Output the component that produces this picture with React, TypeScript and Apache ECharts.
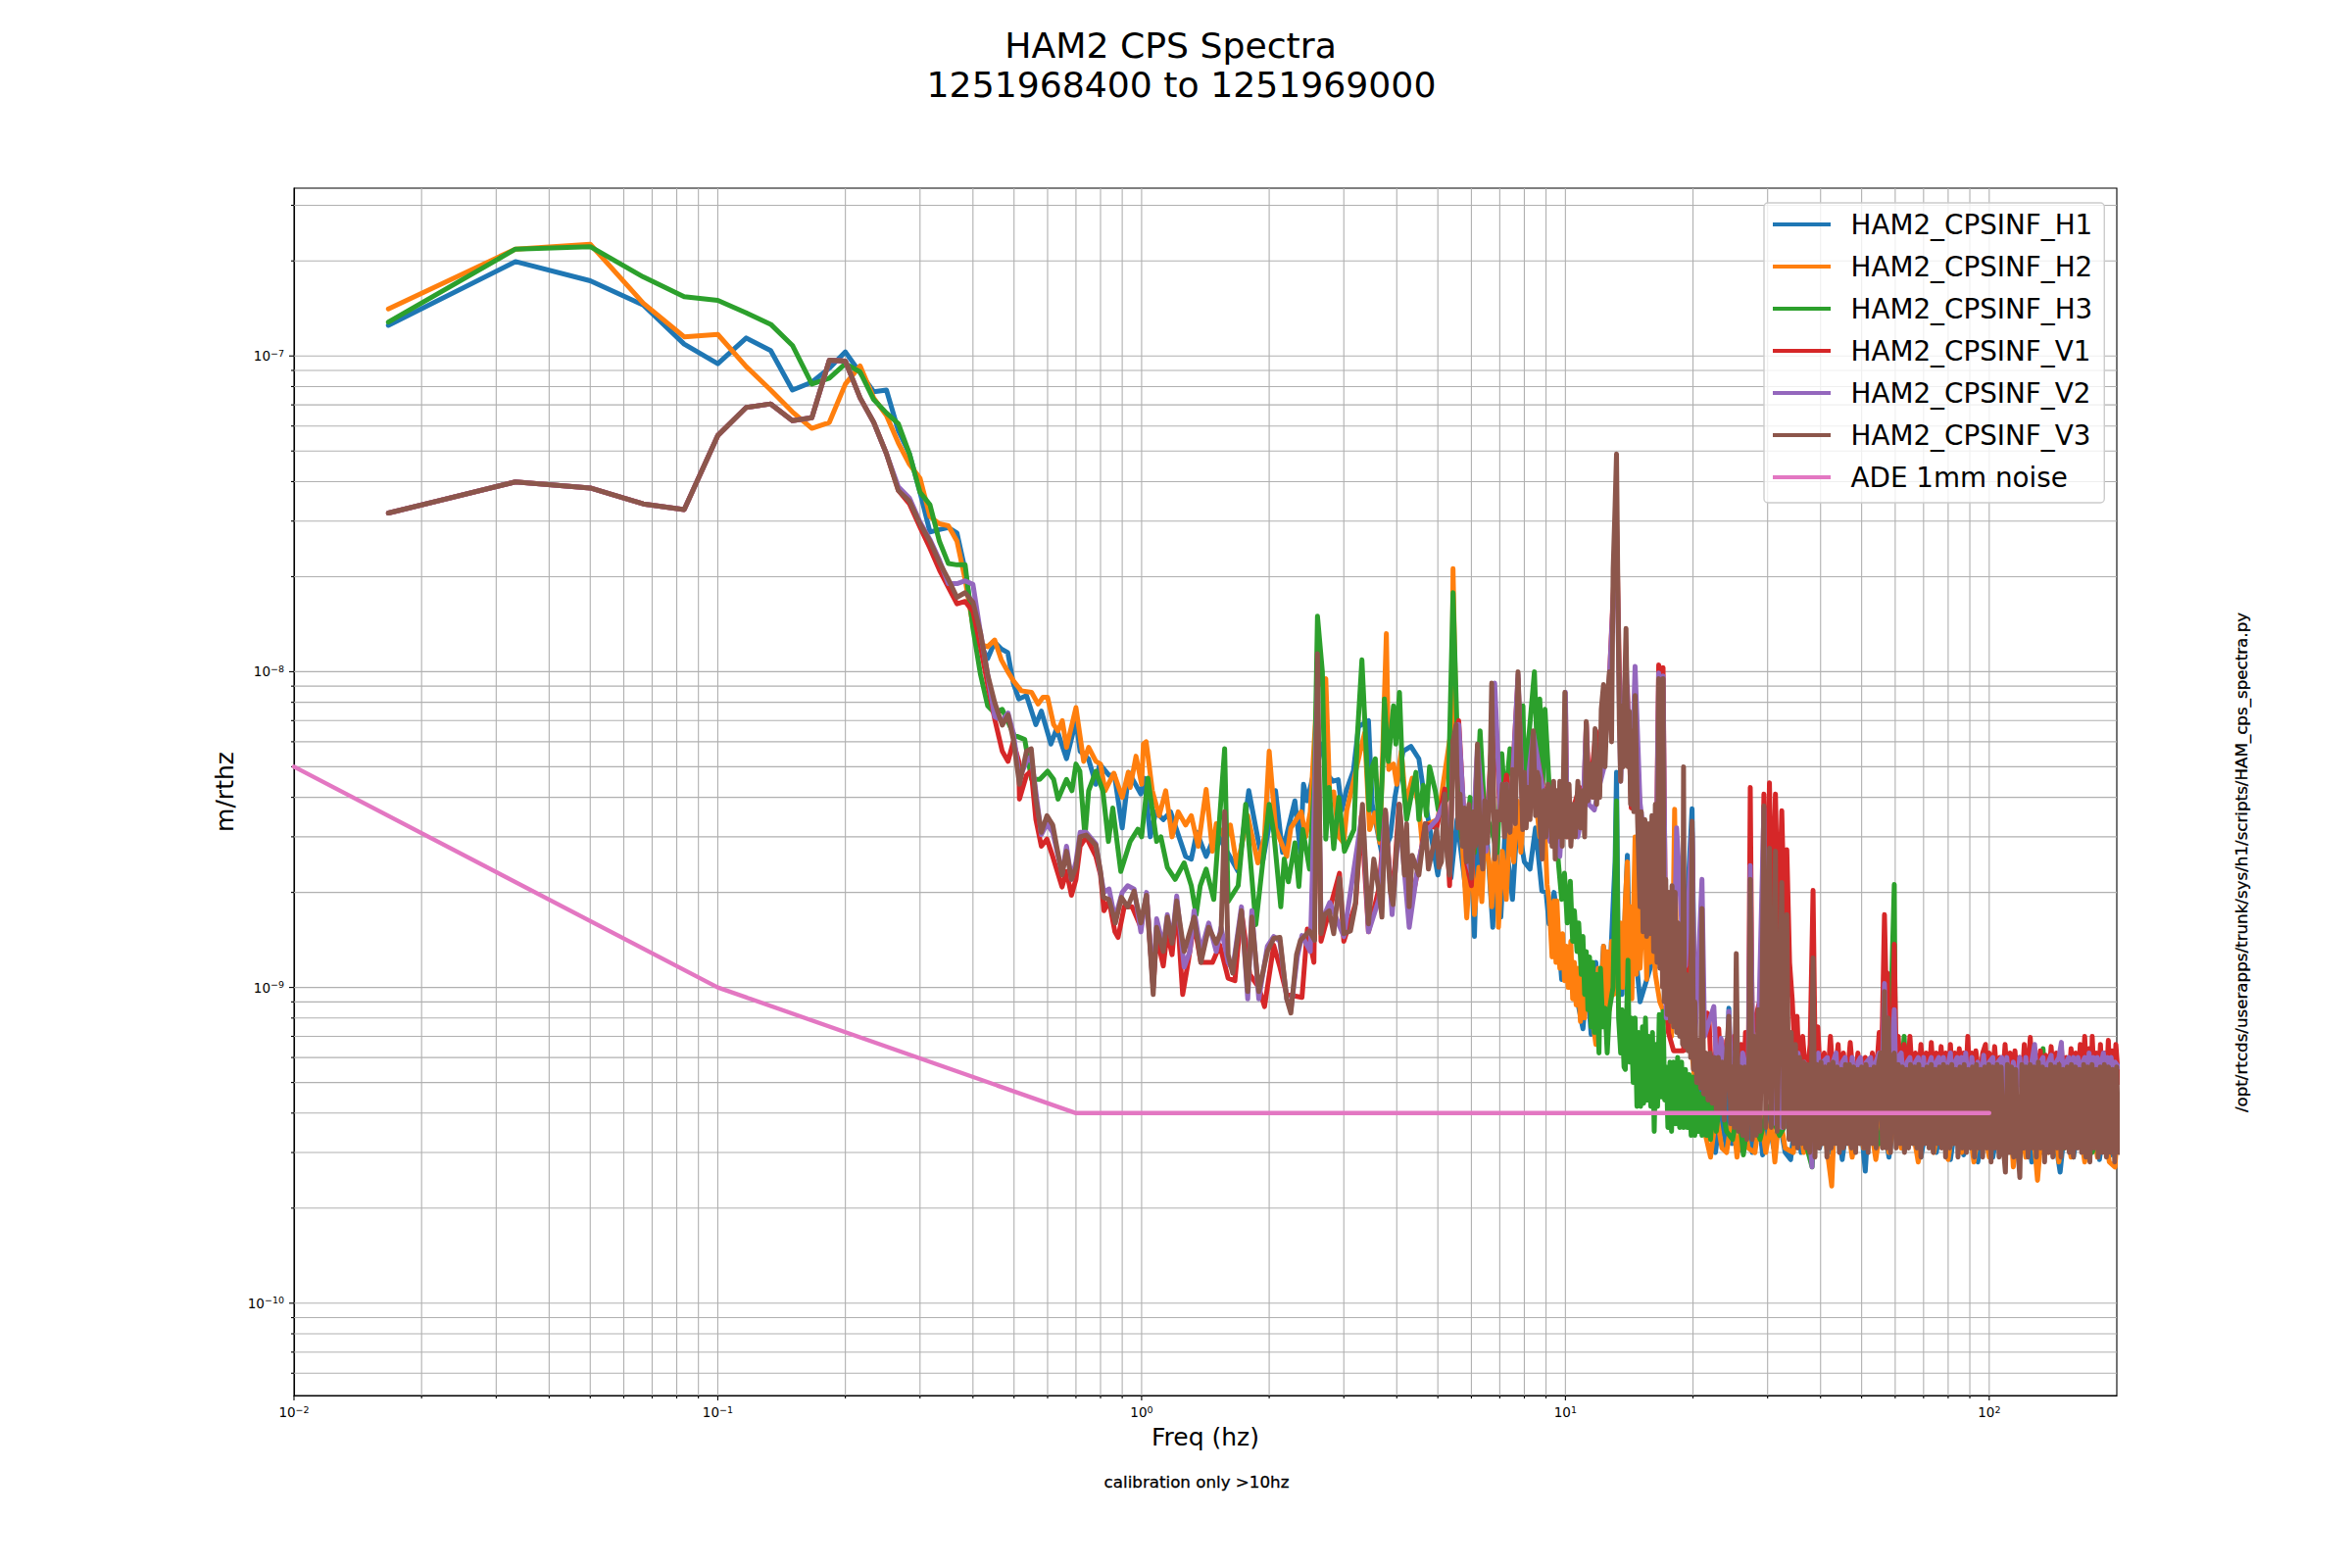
import React, { useEffect, useRef } from "react";
import * as echarts from "echarts";

type Pt = [number, number];
const NM = 1e-9;
const FONT = "DejaVu Sans";

const TITLE_LINES = ["HAM2 CPS Spectra", "1251968400 to 1251969000"];
const X_LABEL = "Freq (hz)";
const Y_LABEL = "m/rthz";
const NOTE_BOTTOM = "calibration only >10hz";
const NOTE_SIDE = "/opt/rtcds/userapps/trunk/sys/h1/scripts/HAM_cps_spectra.py";
const NAMES = ["HAM2_CPSINF_H1", "HAM2_CPSINF_H2", "HAM2_CPSINF_H3", "HAM2_CPSINF_V1", "HAM2_CPSINF_V2", "HAM2_CPSINF_V3", "ADE 1mm noise"];
const COLORS = ["#1f77b4", "#ff7f0e", "#2ca02c", "#d62728", "#9467bd", "#8c564b", "#e377c2"];
const X_MIN = 0.01, X_MAX = 200, Y_MIN = 5.1e-11, Y_MAX = 3.4e-7;
const X_DECADES = [0.01, 0.1, 1, 10, 100];
const Y_DECADES = [1e-10, 1e-9, 1e-8, 1e-7];
const X_MINOR = [0.02,0.03,0.04,0.05,0.06,0.07,0.08,0.09,0.2,0.3,0.4,0.5,0.6,0.7,0.8,0.9,2,3,4,5,6,7,8,9,20,30,40,50,60,70,80,90];
const Y_MINOR = [6e-11,7e-11,8e-11,9e-11,2e-10,3e-10,4e-10,5e-10,6e-10,7e-10,8e-10,9e-10,2e-9,3e-9,4e-9,5e-9,6e-9,7e-9,8e-9,9e-9,2e-8,3e-8,4e-8,5e-8,6e-8,7e-8,8e-8,9e-8,2e-7,3e-7];

const H1: Pt[] = [[.0167,125],[.0333,199],[.05,173],[.0667,145],[.0833,109],[.1,94.5],[.1167,114],[.1333,104],[.15,78],[.1667,82.6],[.1833,91.5],[.2,103],[.2167,88.5],[.2333,77],[.25,78],[.2667,58],[.2833,49],[.3,37],[.3167,27.7],[.3333,28.2],[.35,28.6],[.3667,27.5],[.3833,21],[.4,14.2],[.4167,12.2],[.4333,11],[.45,12.4],[.4667,11.8],[.4833,11.5],
[.498,9.2],[.513,8.2],[.535,8.4],[.563,6.8],[.58,7.5],[.611,5.9],[.63,6.6],[.665,5.3],[.7,7],[.716,5.6],[.749,5.3],[.78,4.4],[.796,5.1],[.838,4.7],[.863,4.7],[.9,3.2],[.933,4.8],[.996,4.1],[1.016,4.6],[1.048,3],[1.08,3.6],[1.125,3.4],[1.17,3.6],[1.27,2.6],[1.31,2.55],[1.35,3.1],[1.42,2.6],[1.5,3.1],[1.69,2.33],[1.79,4.2],[1.89,2.86],[1.93,2.5],[2.07,4.2],[2.15,2.68],[2.3,3.9],[2.37,2.68],[2.41,4.4],[2.46,3.9],[2.54,4.7],[2.65,5.9],[2.75,4.7],[2.83,4.5],[2.91,4.55],[2.97,3.65],[3.04,4.2],[3.16,4.85],[3.25,6.7],[3.43,7],[3.5,3.8],[3.7,2.6],[3.86,3],[3.96,4],[4.14,5.6],[4.32,5.8],[4.51,5.3],[4.65,4],[5,2.27],[5.2,3.2],[5.37,2.22],[5.55,3.4],[5.83,2],[5.95,3.2],[6.1,1.45],[6.2,3.2],[6.32,2.27],[6.5,3.3],[6.74,1.55],[6.85,3],[7.04,1.67],[7.2,3.1],[7.5,1.9],[7.7,3.4],[8,2.5],[8.25,2.37],[8.5,3.2],[8.8,2.02],[9,2],[9.15,1.59],[9.4,2],[9.5,1.8],[9.8,1.06],[10.2,1.3],[10.6,.95],[11,.74],[11.25,1.05],[11.5,.71],[11.8,1.2],[12,.8],[12.3,1.35],[12.6,.8],[13,2.02],[13.1,2.5],[13.2,4.8],[13.35,.95],[13.6,.95],[14,2.62],[14.2,1.1],[14.4,1.67],[15,.9],[16,1.2],[17,1.6],[18,1],[19,1.1],[19.9,3.68],[20.2,.7],
[21,.45],[21.8,.36],[22.6,.3],[23.2,.4],[24,.31],[24.3,.86],[24.7,.32],[25.5,.4],[26,.305],[27,.4],[27.6,.3],[28.5,.4],[29.2,.295],[30,.4],[31,.31],[32,.38],[33,.3],[34,.285],[35,.4],[36,.3],[37,.4],[37.6,.295],[38.6,.4],[39.8,.31],[41,.4],[42,.3],[43.5,.4],[45,.285],[46.5,.4],[48,.3],[49.5,.4],[51,.262],[52,.4],[54,.3],[56,.4],[58,.29],[60,.4],[63,.305],[66,.4],[69,.29],[72,.4],[75,.3],[78,.4],[81,.285],[84,.4],[87,.295],[90,.4],[94,.28],[98,.4],[102,.29],[106,.4],[110,.3],[114,.4],[118,.29],[122,.4],[126,.28],[130,.4],[134,.3],[140,.4],[147,.26],[152,.4],[158,.29],[164,.4],[170,.29],[176,.4],[182,.285],[188,.4],[194,.295],[202,.4]];

const H2: Pt[] = [[.0167,141],[.0333,218],[.05,226],[.0667,147],[.0833,115],[.1,117],[.1167,92.5],[.1333,78],[.15,66.5],[.1667,59],[.1833,61.6],[.2,81.5],[.2167,93],[.2333,73.6],[.25,64.8],[.2667,53],[.2833,45.4],[.3,41],[.3167,31],[.3333,29.4],[.35,29],[.3667,25.9],[.3833,19.6],[.4,14],[.4167,12.2],[.4333,12],[.45,12.6],[.4667,10.9],[.4833,10],
[.5,9.3],[.52,8.7],[.55,8.6],[.57,7.9],[.585,8.3],[.6,8.3],[.62,6.8],[.635,6.5],[.65,7],[.665,5.76],[.7,7.7],[.73,5.2],[.75,5.76],[.78,5.2],[.8,5.1],[.82,4.2],[.86,4.77],[.9,4],[.93,4.8],[.94,4.3],[.97,5.4],[1,4.4],[1.01,5.9],[1.025,6],[1.06,4.2],[1.1,3.5],[1.14,4.2],[1.18,3],[1.22,3.6],[1.27,3.27],[1.31,3.5],[1.36,2.8],[1.42,4.24],[1.47,2.7],[1.5,3.3],[1.58,2.95],[1.62,3.27],[1.68,2.4],[1.78,3.5],[1.88,2.48],[1.95,3],[2,5.6],[2.07,3.2],[2.2,2.6],[2.25,3.2],[2.38,3.6],[2.44,3],[2.5,3.6],[2.6,9],[2.72,9.5],[2.78,4],[2.84,4.16],[2.92,3],[3,2.87],[3.05,3.65],[3.15,4.4],[3.28,5.6],[3.36,6.4],[3.45,3.16],[3.55,3.57],[3.65,2.87],[3.78,13.2],[3.83,4.9],[3.93,5.1],[4,4.4],[4.1,5.6],[4.2,3.8],[4.35,4.6],[4.5,3.8],[4.6,2.8],[4.75,3.3],[5,3.4],[5.4,6.8],[5.43,21.2],[5.52,6.8],[5.7,3],[5.85,1.66],[6,2.87],[6.1,1.7],[6.25,2.4],[6.35,1.87],[6.45,3],[6.6,2.5],[6.7,1.8],[6.85,3.1],[6.95,1.55],[7.1,2.7],[7.25,1.9],[7.4,3.4],[7.55,2.5],[7.7,3.9],[7.85,2.68],[8.05,4.5],[8.25,3.6],[8.45,4.3],[8.7,3],[8.9,3.8],[9.05,2.12],[9.15,1.88],[9.3,1.25],[9.4,1.88],[9.5,1.2],[9.55,1.88],[9.7,1.15],[9.85,1.48],[9.95,1.05],[10.05,1.35],[10.15,1],[10.3,1.4],[10.4,.92],[10.5,1.2],[10.6,.88],[10.7,1.15],[10.85,.78],[10.95,1.1],[11.1,.8],[11.2,1],[11.35,.9],[11.5,1.17],[11.65,.75],[11.8,.66],[11.95,1.15],[12.1,.8],[12.3,1.35],[12.4,.85],[12.55,1.3],[12.7,.85],[12.85,1.4],[13,.95],[13.15,1.5],[13.3,.95],[13.5,1.6],[13.65,1],[13.85,1.9],[14,2.5],[14.1,.98],[14.25,1.8],[14.35,.92],[14.5,1.9],[14.6,3],[14.7,1.1],[14.85,1.9],[15,1.15],[15.2,1.6],[15.4,1.88],[15.55,1.06],[15.7,1.75],[15.85,1.2],[16.1,1.48],[16.3,1.1],[16.7,.9],[17.3,.8],[17.8,.7],[18.1,3.67],[18.3,1.17],[19.3,1.25],[19.7,.7],
[20.5,.42],[21.2,.36],[22,.29],[22.7,.4],[23.4,.31],[24,.3],[24.8,.4],[25.4,.29],[26.2,.4],[27,.31],[28,.3],[28.8,.4],[29.7,.3],[30.6,.38],[31.2,.28],[32,.4],[33,.31],[34.5,.3],[35.6,.4],[36.5,.3],[37.5,.4],[39,.32],[40.4,.4],[42.5,.235],[43.2,.4],[44.5,.31],[46,.4],[47.5,.29],[49,.4],[50.5,.31],[52,.4],[54,.285],[56,.4],[58,.3],[60,.4],[62,.31],[65,.4],[68,.28],[71,.4],[74,.3],[77,.4],[80,.285],[83,.4],[86,.3],[89,.4],[92,.28],[96,.4],[100,.29],[104,.4],[108,.3],[112,.4],[114,.27],[118,.4],[122,.29],[126,.4],[130,.245],[134,.4],[138,.3],[142,.4],[146,.28],[150,.4],[156,.29],[162,.4],[168,.28],[174,.4],[180,.29],[186,.4],[192,.28],[198,.27],[202,.4]];

const H3: Pt[] = [[.0167,128],[.0333,218],[.05,222],[.0667,178],[.0833,154],[.1,150],[.1167,137],[.1333,126],[.15,108],[.1667,81.5],[.1833,85],[.2,94.5],[.2167,89],[.2333,72.7],[.25,66],[.2667,61],[.2833,49],[.3,37],[.3167,33.8],[.3333,25.9],[.35,22],[.3667,21.8],[.3833,21.8],[.4,13.7],[.4167,9.8],[.4333,7.8],[.45,7.4],
[.469,7.6],[.5,6.3],[.53,6.1],[.55,4.56],[.575,4.56],[.6,4.84],[.62,4.56],[.635,3.95],[.665,4.56],[.685,4.2],[.7,5.1],[.715,4.84],[.735,3],[.75,4.2],[.78,4.84],[.81,4.2],[.835,2.9],[.855,3.7],[.893,2.33],[.94,2.9],[.98,3.17],[1,3],[1.035,4.6],[1.085,2.9],[1.11,3],[1.15,2.4],[1.2,2.2],[1.26,2.48],[1.31,2.1],[1.345,1.7],[1.375,2.1],[1.42,2.37],[1.48,1.9],[1.57,5.7],[1.6,1.87],[1.69,2.1],[1.76,3.8],[1.86,1.58],[2,3.8],[2.05,3.1],
[2.13,1.8],[2.17,2.55],[2.22,2.16],[2.3,2.87],[2.35,2.09],[2.4,3.16],[2.49,2.37],[2.56,4.6],[2.6,15],[2.67,10],[2.72,2.95],[2.77,4.3],[2.84,2.75],[2.92,4],[3.01,2.7],[3.17,3.16],[3.23,6.3],[3.31,10.9],[3.44,3.65],[3.5,5],[3.56,5.3],[3.64,2.95],[3.72,5.6],[3.74,8.2],[3.82,5.2],[3.93,7.8],[3.98,5.9],[4.06,8.6],[4.13,4.6],[4.22,3.4],[4.32,4],[4.44,4.8],[4.51,3.4],[4.62,4.37],[4.7,3.5],[4.78,5],[4.93,4.2],[5.01,3.65],[5.15,3.8],[5.29,4],[5.43,17.8],[5.59,4.74],[5.68,3],[5.81,2.75],[5.96,4],[6.1,2.67],[6.29,6.5],[6.44,3.65],[6.72,3.1],[6.9,2.67],[7.08,5.5],[7.2,3.8],[7.4,5.7],[7.59,4],[7.73,6.2],[7.94,7.8],[8,4.6],[8.22,6.5],[8.45,10],[8.6,5],[8.7,8.2],[8.84,4.4],[8.95,7.6],[9.15,4.4],[9.4,3.65],[9.65,2.39],[9.8,1.9],[9.95,2.3],[10.1,1.6],[10.27,2.17],[10.4,1.4],[10.5,1.75],[10.65,1.3],[10.75,1.6],[10.9,1.1],[11,1.45],[11.1,.95],[11.2,1.3],[11.3,.85],[11.4,1.25],[11.5,.75],[11.6,1.2],[11.7,.72],[11.85,1.1],[12,.62],[12.1,1.15],[12.25,.75],[12.4,.86],[12.55,.62],[12.7,.85],[12.95,1],[13.1,2.2],[13.2,3.9],[13.35,.8],[13.5,.62],[13.6,.85],[13.75,.56],[13.85,.55],[14.05,1.22],[14.15,.58],[14.3,.8],[14.45,.5],[14.6,.8],[14.75,.42],[14.9,.72],[15.05,.42],[15.2,.75],[15.3,.43],[15.45,.8],[15.6,.44],[15.75,.7],[15.9,.42],[16.05,.72],[16.2,.35],[16.35,.66],[16.5,.42],[16.65,.82],[16.8,.45],[17,.84],[17.15,.44],[17.3,.56],[17.45,.36],[17.65,.58],[17.8,.35],[18,.58],[18.2,.37],[18.4,.6],[18.6,.36],[18.8,.58],[19,.36],[19.2,.55],[19.4,.36],[19.6,.53],[19.8,.34],[20,.52],[20.2,.34],[20.4,.5],[20.6,.35],[20.8,.46],[21,.34],[21.2,.45],[21.5,.34],[21.8,.44],[22,.33],[22.4,.46],[22.7,.35],[23.2,.45],[24,.35],[24.8,.33],[25.6,.42],[26.3,.295],[27.2,.42],[28.8,.33],[30,.42],[32,.34],[35,.42],[38.2,.27],[39,.42],[45,.33],[50,.42],[55,.32],[58,.5],[59.7,2.12],[60.1,.5],[60.7,.67],[61.5,.45],[63,.7],[64,.4],[70,.33],[80,.42],[90,.32],[100,.42],[110,.33],[120,.42],[130,.32],[134,.64],[136,.42],[150,.31],[165,.42],[175,.3],[190,.42],[202,.33]];

const V_LOW: Pt[] = [[.0167,31.8],[.0333,39.9],[.05,38.2],[.0667,34],[.0833,32.6],[.1,56],[.1167,68.7],[.1333,70.5],[.15,62.4],[.1667,63.7],[.1833,97],[.2,96.3],[.2167,73.6],[.2333,61.6],[.25,49]];

const V1_REST: Pt[] = [[.2667,37.5],[.2833,34],[.3,28.7],[.3167,24.6],[.3333,21],[.35,18.5],[.3667,16.4],[.3833,16.7],[.4,15.5],[.4167,12],[.4333,9.1],[.45,7.1],
[.469,5.6],[.484,5.2],[.498,6],[.513,5.2],[.515,3.95],[.535,4.7],[.549,4.85],[.563,3.4],[.58,2.8],[.598,2.95],[.617,2.6],[.649,2.08],[.665,2.33],[.683,1.96],[.7,2.2],[.716,2.8],[.74,3],[.78,2.6],[.8,2.27],[.815,1.75],[.838,1.88],[.865,1.5],[.88,1.44],[.91,1.8],[.95,1.8],[.996,1.55],[1.027,1.96],[1.065,1],[1.085,1.46],[1.125,1.17],[1.15,1.5],[1.18,1.27],[1.21,1.85],[1.25,.95],[1.29,1.22],[1.33,1.6],[1.38,1.2],[1.47,1.2],[1.53,1.36],[1.6,1.07],[1.66,1.05],[1.72,1.75],[1.8,1.1],[1.89,1],[1.95,.87],[2.05,1.36],[2.12,1.16],[2.2,.95],[2.39,.93],[2.46,1.53],[2.55,1.2],[2.6,8],[2.65,1.4],[2.93,2.3],[3,1.4],[3.2,1.85],[3.3,3.5],[3.43,1.5],[3.63,2.06],[3.76,3.6],[3.9,1.8],[4.05,3.8],[4.28,1.7],[4.5,2.4],[4.67,3.3],[4.97,3.2],[5.19,4.25],[5.33,2.1],[5.43,6],[5.6,7],[5.84,2.5],[6,2.1],[6.2,5.5],[6.5,3],[6.8,8.5],[7.02,3.4],[7.26,4.7],[7.4,3.4],[7.73,9.5],[7.95,3.2],[8.4,6.2],[8.8,4.5],[9.2,3.2],[9.5,4],[9.7,3],[9.97,4.5],[10,8],[10.1,3],[10.5,3.8],[10.8,4.3],[11,3.2],[11.2,6.9],[11.4,4],[11.8,6.5],[12,4.2],[12.7,9.5],[13.2,30],[13.5,6],[14,9],[14.3,3.7],[14.6,8],[15,3.5],[15.6,2],[16,2.36],[16.3,1.5],[16.6,10.5],[16.8,2.5],[17,10.3],[17.2,1.8],[17.5,.72],[18,.63],[19,.63],[19.9,3.1],[20.2,.55],[21.6,.83],[21.8,.82],[22.2,.45],[22.6,.62],[23,.74],[23.5,.45],[24,.68],[24.5,.45],[25,.7],[25.5,.45],[26,.66],[26.3,.45],[26.6,.72],[27,.48],[27.3,4.3],[27.6,.7],[28,.75],[28.4,.85],[29,.95],[29.4,4.1],[29.8,1.2],[30.3,4.45],[30.7,1.4],[31.3,4.1],[31.8,1.5],[32.4,3.63],[32.9,1.5],[33.3,2.73],[33.8,1.2],[34.3,.91],[34.8,.6],[35.2,.81],[35.7,.5],[36.3,.7],[37,.5],[37.8,.66],[38.4,2.03],[38.9,.5],[39.4,.75],[40,.5],[40.8,.62],[41.5,.48],[42.2,.7],[43,.48],[44,.66],[44.6,.48],[45.3,.62],[46,.48],[47,.67],[48,.48],[49,.62],[50,.48],[51,.6],[52,.48],[53,.62],[54,.5],[55,.72],[55.5,.5],[56,.8],[56.6,1.7],[57,1.1],[57.5,1.11],[58,.6],[59,.62],[59.7,1.37],[60.3,.6],[61,.7],[62,.5],[63,.66],[64,.5],[65,.7],[66,.5],[67,.62],[68,.5],[69,.66],[70,.5],[71,.62],[72,.5],[73,.67],[74,.5],[75,.62],[76,.5],[77,.65],[78,.5],[79,.62],[80,.5],[81,.66],[82,.5],[83,.62],[84,.5],[85,.64],[86,.5],[87,.62],[88,.5],[89,.7],[90,.5],[91,.62],[92,.5],[93,.63],[95,.5],[96.5,.62],[98,.66],[99,.5],[100,.62],[101.5,.5],[103,.65],[104.5,.5],[106,.6],[107.5,.5],[109,.66],[110.5,.5],[112,.62],[113.5,.5],[115,.63],[116.5,.5],[118,.6],[119.5,.5],[121,.66],[123,.5],[125,.695],[126.5,.5],[128,.64],[130,.5],[132,.63],[134,.5],[136,.61],[138,.5],[140,.65],[142,.5],[144,.62],[146,.5],[148,.64],[150,.5],[152,.6],[154,.5],[156,.64],[158,.5],[160,.62],[162,.5],[164,.66],[166,.5],[168,.7],[170,.5],[172,.64],[174,.5],[175,.7],[177,.5],[179,.62],[181,.5],[183,.66],[185,.5],[187,.62],[189,.5],[191,.68],[193,.5],[195,.63],[197,.5],[199,.66],[202,.5]];

const V2_REST: Pt[] = [[.2667,38.5],[.2833,35.5],[.3,29.8],[.3167,26.2],[.3333,22.6],[.35,19],[.3667,19],[.3833,19.4],[.4,18.9],[.4167,13.3],[.4333,9.8],[.45,7.2],
[.469,7],[.484,7.4],[.498,6.4],[.515,4.6],[.535,5.2],[.549,5.4],[.58,3.05],[.598,3.3],[.617,3.1],[.649,2.3],[.665,2.8],[.683,2.2],[.7,2.5],[.716,3.1],[.74,3.1],[.78,2.85],[.8,2.3],[.815,2],[.838,2.05],[.865,1.65],[.9,2],[.927,2.1],[.96,2.05],[.996,1.5],[1.027,2],[1.065,1],[1.085,1.65],[1.125,1.35],[1.15,1.7],[1.18,1.4],[1.21,1.95],[1.26,1.16],[1.3,1.3],[1.33,1.75],[1.38,1.3],[1.44,1.6],[1.5,1.3],[1.54,1.55],[1.6,1.2],[1.64,1.14],[1.72,1.8],[1.78,.92],[1.82,1.75],[1.89,.92],[1.98,1.35],[2.05,1.45],[2.12,1.4],[2.2,.92],[2.25,.85],[2.33,1.25],[2.39,1.46],[2.5,1.3],[2.6,9],[2.65,1.6],[2.78,1.86],[3,1.45],[3.32,3.6],[3.43,1.5],[3.63,1.9],[3.76,3.6],[3.9,1.7],[4.06,3.5],[4.28,1.55],[4.5,2.5],[4.67,3.1],[4.97,3.4],[5.19,3.9],[5.33,2.3],[5.43,5.8],[5.6,6.8],[5.84,2.6],[6,2.3],[6.2,5.8],[6.5,2.7],[6.81,9.2],[7.02,3.6],[7.26,4.4],[7.4,3.2],[7.73,9.8],[7.95,3.3],[8.4,6.4],[8.8,4.4],[9.2,2.9],[9.5,3.8],[9.7,2.6],[9.97,4.6],[10,8.6],[10.1,3.1],[10.4,3.1],[10.7,3],[11,3.65],[11.2,6.8],[11.35,3.8],[11.7,3.65],[12,4.3],[12.3,4.9],[12.7,9.5],[13.2,28],[13.5,4.5],[13.9,11],[14.3,4],[14.6,10.4],[15,3.84],[15.6,2.5],[16.05,2.5],[16.3,1.4],[16.6,9.9],[16.8,2.2],[17,9.7],[17.3,.8],[18,1],[18.3,3.2],[18.6,2.17],[19,1.17],[19.2,1.17],[19.9,3.2],[20.2,.65],[21,2.2],[21.3,.7],[22.4,.87],[22.8,.5],[23.3,.69],[24,.5],[24.3,.84],[24.7,.5],[25,.62],[25.5,.46],[26.2,.62],[27,.48],[27.3,2.43],[27.7,.55],[28.5,.65],[29.4,3.7],[30,.6],[30.3,.8],[30.8,.5],[31.4,.37],[32,.6],[32.5,.36],[33,.62],[33.6,.36],[34.2,.6],[34.8,.37],[35.4,.62],[36,.38],[36.6,.58],[37.2,.4],[38.2,.27],[38.6,.58],[39.5,.62],[40,.46],[40.5,.58],[41.5,.6],[42,.46],[42.8,.58],[43.5,.62],[44.2,.46],[45,.58],[45.7,.6],[46.5,.46],[47.5,.6],[48.2,.46],[49,.58],[49.7,.6],[50.5,.46],[51.3,.58],[52.5,.6],[53.2,.46],[54,.58],[55,.62],[55.8,.46],[56.6,1.03],[57.2,.6],[58,.46],[58.8,.58],[59.7,.85],[60.3,.46],[61,.6],[62,.62],[63,.46],[64,.58],[65,.6],[66,.46],[67,.58],[68,.6],[69,.46],[70,.6],[71,.46],[72,.57],[73,.6],[74,.46],[75,.58],[76,.6],[77,.46],[78,.6],[79,.46],[80,.57],[81,.62],[82,.46],[83,.58],[84,.6],[85,.46],[86,.6],[87,.46],[88,.62],[89.5,.46],[91,.6],[92.5,.46],[94,.58],[95.5,.46],[97,.61],[98.5,.46],[100,.58],[102,.6],[103.5,.46],[105,.58],[107,.6],[108.5,.46],[110,.6],[112,.46],[114,.58],[116,.46],[118,.6],[120,.46],[122,.6],[124,.46],[126,.58],[128,.66],[130,.46],[132,.58],[134,.6],[136,.46],[138,.58],[140,.61],[142,.46],[144,.58],[146,.6],[148,.67],[150,.46],[152,.58],[154,.6],[156,.46],[158,.6],[160,.46],[162,.6],[164,.46],[166,.58],[168,.6],[170,.46],[172,.62],[174,.46],[176,.6],[178,.46],[180,.6],[182,.46],[184,.58],[186,.62],[188,.46],[190,.6],[192,.46],[194,.6],[196,.46],[198,.58],[202,.56]];

const V3_REST: Pt[] = [[.2667,37.5],[.2833,34.7],[.3,29.4],[.3167,25.9],[.3333,22.2],[.35,19.6],[.3667,17.2],[.3833,17.8],[.4,16.6],[.4167,13.3],[.4333,9.8],[.45,8],
[.469,6.77],[.484,7.3],[.498,6.1],[.515,4.4],[.535,5.6],[.549,5.7],[.563,3.95],[.58,3.1],[.598,3.5],[.617,3.27],[.649,2.27],[.665,2.7],[.683,2.2],[.7,2.4],[.716,3],[.74,3.04],[.78,2.82],[.8,2.33],[.812,1.93],[.838,1.9],[.867,1.6],[.896,1.93],[.927,1.8],[.96,2.02],[.996,1.6],[1.027,1.96],[1.065,.95],[1.085,1.55],[1.125,1.3],[1.15,1.67],[1.18,1.38],[1.21,1.88],[1.26,1.3],[1.33,1.67],[1.38,1.2],[1.44,1.55],[1.5,1.38],[1.54,1.5],[1.57,3.6],[1.6,1.27],[1.64,1.11],[1.72,1.75],[1.78,.97],[1.82,1.67],[1.89,.97],[1.98,1.3],[2.05,1.43],[2.12,1.44],[2.2,.92],[2.25,.83],[2.32,1.27],[2.37,1.41],[2.49,1.51],[2.56,1.41],[2.6,11.4],[2.65,1.48],[2.7,1.7],[2.77,1.75],[2.84,1.48],[2.93,2.22],[3,1.48],[3.11,1.51],[3.19,1.8],[3.32,3.8],[3.43,1.59],[3.53,2.55],[3.63,2.02],[3.69,1.67],[3.76,3.65],[3.86,2.02],[3.92,1.83],[4.06,3.8],[4.17,2.27],[4.22,3.3],[4.28,1.8],[4.35,2.62],[4.51,2.27],[4.67,3.3],[4.75,2.37],[4.97,3.16],[5.03,2.4],[5.1,2.5],[5.15,3.4],[5.19,4.1],[5.26,2.6],[5.33,2.27],[5.38,3.5],[5.43,6],[5.52,6.8],[5.58,3.2],[5.64,4.1],[5.72,2.8],[5.78,3.7],[5.84,2.5],[5.92,3.8],[6,2.22],[6.08,3.6],[6.13,2.8],[6.2,5.9],[6.29,2.9],[6.38,2.37],[6.45,3.9],[6.55,2.87],[6.62,3.9],[6.7,9.2],[6.81,2.55],[6.9,3.6],[7.02,3.4],[7.1,4.4],[7.18,3],[7.26,4.4],[7.33,3.2],[7.4,3.1],[7.5,4.9],[7.62,3.3],[7.73,10],[7.93,3.16],[8,4.8],[8.08,3.2],[8.15,4.3],[8.25,3.4],[8.33,5.2],[8.4,6.5],[8.5,3.5],[8.58,4.8],[8.65,4.6],[8.73,3.1],[8.82,2.55],[8.9,4.2],[9,3],[9.1,4.4],[9.2,4],[9.3,2.8],[9.38,4.5],[9.46,2.55],[9.55,4.2],[9.62,3],[9.7,4.5],[9.83,2.8],[9.97,8.6],[10.05,3],[10.2,4.4],[10.3,2.8],[10.45,3.8],[10.55,3],[10.7,4.5],[10.85,3.2],[11,4.2],[11.1,3],[11.2,6.95],[11.3,3.9],[11.45,5.1],[11.6,4],[11.75,6.6],[11.85,3.8],[11.95,5.4],[12.05,4],[12.15,7.6],[12.3,9.1],[12.4,5],[12.55,8],[12.7,10],[12.85,6],[12.96,21],[13.1,33.8],[13.2,48.9],[13.3,18],[13.4,7],[13.5,4.5],[13.6,7.8],[13.7,5],[13.8,9],[13.9,13.7],[14.05,5],[14.15,7.5],[14.25,3.8],[14.4,6.5],[14.5,3.6],[14.6,8.4],[14.8,3.4],[15,1.8],[15.1,3.6],[15.25,1.5],[15.4,3.4],[15.55,1.45],[15.7,3.3],[15.85,1.48],[16,3.5],[16.15,1.3],[16.3,3.8],[16.45,1.2],[16.6,9.5],[16.7,1.15],[16.85,4],[16.95,1],[17,9.5],[17.1,.9],[17.25,2.2],[17.4,.82],[17.55,2],[17.7,.78],[17.85,2.1],[18,.75],[18.15,2],[18.3,.72],[18.45,1.6],[18.6,.7],[18.75,1.3],[18.9,.66],[19,5],[19.1,.65],[19.3,1.1],[19.45,.63],[19.6,1],[19.75,.6],[19.9,3.36],[20.05,.55],[20.2,.9],
[20.4,.5],[20.6,.68],[20.85,.48],[21,1.78],[21.2,.46],[21.45,.62],[21.7,.44],[21.95,.62],[22.2,.43],[22.45,.6],[22.7,.41],[22.95,.6],[23.2,.4],[23.45,.58],[23.7,.38],[23.95,.58],[24.3,.81],[24.55,.37],[24.8,.56],[25.05,.36],[25.3,1.28],[25.6,.35],[25.9,.56],[26.2,.34],[26.5,.56],[26.8,.33],[27.1,.6],[27.3,2.2],[27.6,.33],[27.9,.7],[28.2,.34],[28.5,.85],[28.8,.35],[29.1,.92],[29.4,3.76],[29.7,.36],[30,.95],[30.3,2.76],[30.6,.36],[31,.95],[31.3,2.7],[31.6,.35],[32,.9],[32.4,2.15],[32.75,.36],[33.1,.85],[33.3,1.7],[33.7,.33],[34.1,.72],[34.5,.32],[34.9,.66],[35.3,.31],[35.7,.6],[36.1,.32],[36.5,.58],[36.9,.31],[37.3,.57],[37.7,.3],[38.1,.58],[38.4,1.24],[38.8,.29],[39.2,.57],[39.7,.31],[40.1,.58],[40.5,.32],[41,.56],[41.4,.29],[41.9,.57],[42.4,.31],[42.8,.58],[43.3,.32],[43.8,.56],[44.3,.3],[44.8,.55],[45.3,.31],[45.8,.57],[46.3,.32],[46.8,.57],[47.3,.31],[47.9,.56],[48.4,.3],[49,.55],[49.5,.32],[50,.56],[50.6,.31],[51.2,.57],[51.8,.3],[52.4,.55],[53,.32],[53.5,.56],[54.1,.31],[54.8,.57],[55.4,.62],[56,.31],[56.6,.97],[57.2,.31],[57.8,.8],[58.5,.3],[59.1,.6],[59.7,.62],[60.3,.31],[61,.57],[61.7,.32],[62.4,.56],[63.1,.3],[63.8,.55],[64.5,.31],[65.2,.57],[66,.32],[66.7,.56],[67.5,.31],[68.2,.57],[69,.29],[69.7,.55],[70.5,.32],[71.3,.56],[72.1,.31],[73,.57],[73.8,.3],[74.6,.55],[75.4,.32],[76.3,.56],[77.2,.31],[78,.57],[78.9,.29],[79.8,.56],[80.7,.31],[81.6,.57],[82.5,.32],[83.4,.55],[84.4,.29],[85.3,.56],[86.3,.31],[87.3,.57],[88.3,.3],[89.3,.55],[90.3,.31],[91.3,.56],[92.3,.29],[93.3,.57],[94.4,.31],[95.5,.55],[96.5,.29],[97.6,.56],[98.7,.31],[99.8,.57],[101,.28],[102,.56],[103.2,.31],[104.4,.57],[105.5,.29],[106.7,.56],[108,.31],[109.2,.26],[110.4,.57],[111.6,.3],[112.9,.56],[114.2,.29],[115.5,.55],[116.8,.31],[118.1,.25],[119.4,.57],[120.8,.31],[122.1,.56],[123.5,.29],[124.9,.57],[126.3,.31],[127.7,.56],[129.2,.29],[130.6,.58],[132.1,.31],[133.6,.56],[135.1,.28],[136.6,.55],[138.1,.3],[139.7,.57],[141.3,.29],[142.9,.56],[144.5,.31],[146.1,.57],[147.7,.29],[149.4,.55],[151.1,.31],[152.8,.56],[154.5,.3],[156.3,.57],[158,.29],[159.8,.56],[161.6,.31],[163.4,.55],[165.3,.3],[167.1,.57],[169,.29],[170.9,.56],[172.8,.28],[174.8,.57],[176.8,.31],[178.8,.55],[180.8,.29],[182.8,.56],[184.9,.3],[186.9,.57],[189,.29],[191.2,.56],[193.3,.3],[195.5,.55],[197.7,.28],[199.9,.56],[202,.3]];

const ADE: Pt[] = [[.01,5],[.1,1],[.7,.4],[100,.4]];

const SERIES_POINTS: Pt[][] = [H1, H2, H3, [...V_LOW, ...V1_REST], [...V_LOW, ...V2_REST], [...V_LOW, ...V3_REST], ADE];
const LINE_WIDTHS = [5, 5, 5, 5, 5, 5, 4.4];

function isDecade(v: number) {
  const e = Math.round(Math.log10(v));
  return Math.abs(v / Math.pow(10, e) - 1) < 1e-6 ? e : null;
}
function labelFmt(v: number) {
  const e = isDecade(v);
  if (e === null) return "";
  const exp = e < 0 ? `\u2212${-e}` : `${e}`;
  return `{b|10}{s|${exp}}`;
}
const labelRich = {
  b: { fontFamily: FONT, fontSize: 13.5, color: "#000", lineHeight: 16 },
  s: { fontFamily: FONT, fontSize: 9.5, color: "#000", verticalAlign: "top", lineHeight: 12 },
};

function gridSeries(vals: number[], vertical: boolean, major: boolean) {
  return {
    type: "custom",
    silent: true,
    clip: false,
    z: 1,
    data: vals.map((v) => (vertical ? [v, Y_MIN] : [X_MIN, v])),
    encode: { x: 0, y: 1 },
    renderItem: (_p: any, api: any) => {
      const v = vertical ? api.value(0) : api.value(1);
      const a = vertical ? api.coord([v, Y_MIN]) : api.coord([X_MIN, v]);
      const b = vertical ? api.coord([v, Y_MAX]) : api.coord([X_MAX, v]);
      const t = major ? 5 : 3;
      const tick = {
        type: "line",
        shape: vertical ? { x1: a[0], y1: a[1], x2: a[0], y2: a[1] + t } : { x1: a[0], y1: a[1], x2: a[0] - t, y2: a[1] },
        style: { stroke: "#000", lineWidth: 1.1 },
      };
      const line = { type: "line", shape: { x1: a[0], y1: a[1], x2: b[0], y2: b[1] }, style: { stroke: "#b0b0b0", lineWidth: 1.1 } };
      return { type: "group", children: v === X_MIN && vertical ? [tick] : [line, tick] };
    },
  };
}

export default function App() {
  const ref = useRef<HTMLDivElement>(null);
  useEffect(() => {
    const chart = echarts.init(ref.current!, undefined, { renderer: "svg" });
    const titleStyle = { fontFamily: FONT, fontSize: 36.2, fontWeight: "normal", color: "#000", lineHeight: 40 };
    chart.setOption({
      animation: false,
      backgroundColor: "#fff",
      textStyle: { fontFamily: FONT },
      title: [
        { text: TITLE_LINES[0], left: 1189.5, top: 21, textAlign: "center", textStyle: titleStyle },
        { text: TITLE_LINES[1], left: 1200.5, top: 61, textAlign: "center", textStyle: titleStyle },
      ],
      grid: { left: 300, top: 192, width: 1860, height: 1232, show: true, borderColor: "#000", borderWidth: 1.1, backgroundColor: "transparent" },
      legend: {
        data: NAMES,
        orient: "vertical",
        left: 1800,
        top: 207,
        padding: [6, 12, 10, 9],
        itemGap: 11,
        itemWidth: 59,
        itemHeight: 4,
        icon: "rect",
        align: "left",
        backgroundColor: "rgba(255,255,255,0.8)",
        borderColor: "#cccccc",
        borderWidth: 1.4,
        borderRadius: 4,
        z: 20,
        textStyle: { fontFamily: FONT, fontSize: 27.8, color: "#000", lineHeight: 32, padding: [0, 0, 0, 15.5] },
      },
      xAxis: {
        type: "log",
        logBase: 10,
        min: X_MIN,
        max: X_MAX,
        name: X_LABEL,
        nameLocation: "middle",
        nameGap: 30,
        nameTextStyle: { fontFamily: FONT, fontSize: 25, color: "#000" },
        axisLine: { show: true, lineStyle: { color: "#000", width: 1.1 } },
        axisTick: { show: false },
        splitLine: { show: false },
        minorSplitLine: { show: false },
        axisLabel: { show: true, margin: 9, formatter: labelFmt, rich: labelRich, showMinLabel: true, showMaxLabel: false },
      },
      yAxis: {
        type: "log",
        logBase: 10,
        min: Y_MIN,
        max: Y_MAX,
        name: Y_LABEL,
        nameLocation: "middle",
        nameGap: 51,
        nameTextStyle: { fontFamily: FONT, fontSize: 25, color: "#000" },
        axisLine: { show: true, lineStyle: { color: "#000", width: 1.1 } },
        axisTick: { show: false },
        splitLine: { show: false },
        minorSplitLine: { show: false },
        axisLabel: { show: true, margin: 10, formatter: labelFmt, rich: labelRich },
      },
      graphic: [
        { type: "text", x: 1221, y: 1512, style: { text: NOTE_BOTTOM, fontFamily: FONT, fontSize: 16.7, fill: "#000", stroke: "#000", lineWidth: 0.3, textAlign: "center", textVerticalAlign: "middle" } },
        { type: "text", x: 2287, y: 880, rotation: Math.PI / 2, style: { text: NOTE_SIDE, fontFamily: FONT, fontSize: 16.7, fill: "#000", stroke: "#000", lineWidth: 0.3, textAlign: "center", textVerticalAlign: "middle" } },
      ],
      series: [
        gridSeries(X_DECADES, true, true),
        gridSeries(X_MINOR, true, false),
        gridSeries(Y_DECADES, false, true),
        gridSeries(Y_MINOR, false, false),
        ...NAMES.map((name, i) => ({
          type: "line",
          name,
          z: 3 + i,
          data: SERIES_POINTS[i].map(([f, v]) => [f, v * NM]),
          showSymbol: false,
          symbol: "none",
          smooth: false,
          color: COLORS[i],
          lineStyle: { color: COLORS[i], width: LINE_WIDTHS[i], join: "round", cap: "round" },
          emphasis: { disabled: true },
          silent: true,
        })),
      ],
    });
    return () => chart.dispose();
  }, []);
  return <div ref={ref} style={{ position: "fixed", left: 0, top: 0, width: 2400, height: 1600 }} />;
}
